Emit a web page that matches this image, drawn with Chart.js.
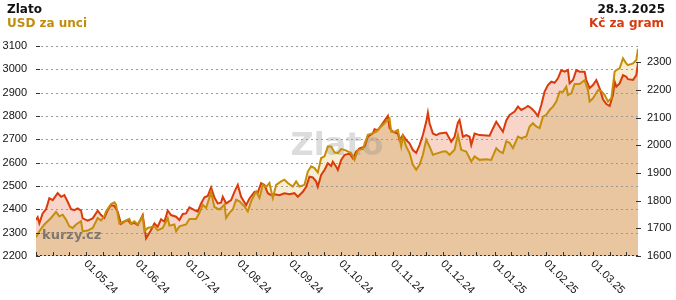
<!DOCTYPE html>
<html>
<head>
<meta charset="utf-8">
<script src="https://cdn.jsdelivr.net/npm/chart.js@4.4.1/dist/chart.umd.min.js"></script>
<style>
  html, body { margin: 0; padding: 0; background: #fff; }
  #wrap { position: relative; width: 676px; height: 300px; }
  .t { position: absolute; font: bold 12px "DejaVu Sans", sans-serif; line-height: 14px; white-space: nowrap; }
</style>
</head>
<body>
<div id="wrap">
  <canvas id="zlato" width="676" height="300"></canvas>
  <div class="t" style="left:7px;top:2px;color:#111">Zlato</div>
  <div class="t" style="left:7px;top:16px;color:#c08c0c">USD za unci</div>
  <div class="t" style="right:11px;top:2px;color:#111">28.3.2025</div>
  <div class="t" style="right:12px;top:16px;color:#d83a10">Kč za gram</div>
</div>
<script>
// den 0 = 1.4.2024
const startDate = Date.UTC(2024, 3, 1);
const endDay = 361;

const usdDays = [0, 2, 5, 7, 9, 12, 14, 16, 18, 20, 22, 24, 27, 28, 31, 34, 37, 39, 41, 42, 45, 47, 48, 50, 53, 56, 57, 59, 61, 64, 65, 67, 71, 73, 76, 79, 80, 83, 84, 86, 90, 92, 96, 98, 100, 102, 105, 107, 110, 113, 114, 116, 118, 120, 122, 125, 127, 129, 132, 134, 136, 138, 140, 142, 144, 147, 149, 151, 154, 156, 158, 161, 163, 165, 167, 169, 171, 173, 175, 177, 179, 181, 183, 185, 187, 189, 191, 193, 196, 199, 202, 204, 207, 209, 212, 213, 215, 217, 219, 220, 222, 224, 226, 228, 230, 232, 234, 236, 238, 241, 244, 246, 248, 251, 253, 255, 258, 261, 263, 266, 270, 273, 276, 278, 280, 282, 284, 286, 289, 291, 294, 296, 298, 300, 302, 304, 306, 308, 310, 312, 314, 316, 318, 319, 321, 323, 326, 329, 331, 332, 334, 337, 339, 341, 343, 345, 347, 348, 350, 352, 354, 355, 358, 360, 361];
const usdValues = [2280, 2306, 2335, 2349, 2363, 2389, 2370, 2377, 2356, 2327, 2320, 2335, 2349, 2306, 2309, 2320, 2363, 2353, 2370, 2391, 2423, 2430, 2420, 2339, 2349, 2359, 2339, 2349, 2335, 2370, 2306, 2320, 2327, 2310, 2320, 2363, 2330, 2335, 2306, 2327, 2335, 2359, 2359, 2385, 2420, 2406, 2473, 2410, 2399, 2420, 2363, 2385, 2399, 2441, 2434, 2413, 2391, 2434, 2477, 2449, 2505, 2496, 2513, 2449, 2505, 2520, 2527, 2513, 2498, 2520, 2498, 2505, 2562, 2584, 2577, 2558, 2620, 2627, 2669, 2669, 2644, 2641, 2658, 2655, 2648, 2641, 2612, 2655, 2658, 2719, 2726, 2733, 2755, 2769, 2790, 2733, 2733, 2740, 2669, 2712, 2669, 2641, 2591, 2570, 2591, 2634, 2698, 2669, 2634, 2641, 2648, 2648, 2634, 2655, 2719, 2655, 2648, 2605, 2627, 2612, 2615, 2612, 2662, 2648, 2641, 2691, 2685, 2662, 2712, 2705, 2712, 2755, 2769, 2755, 2748, 2797, 2805, 2826, 2840, 2862, 2904, 2904, 2926, 2890, 2897, 2937, 2937, 2954, 2911, 2862, 2876, 2911, 2907, 2890, 2862, 2876, 2990, 2997, 3004, 3047, 3025, 3018, 3025, 3040, 3088];

const czkDays = [0, 1, 2, 4, 6, 8, 10, 13, 15, 17, 19, 21, 23, 25, 27, 28, 31, 34, 37, 39, 41, 43, 45, 47, 49, 51, 53, 55, 57, 59, 61, 64, 66, 69, 71, 73, 75, 77, 79, 81, 84, 86, 88, 90, 92, 95, 97, 99, 101, 103, 105, 107, 109, 111, 112, 114, 117, 119, 121, 123, 126, 128, 131, 133, 135, 137, 139, 141, 143, 146, 149, 152, 155, 157, 160, 162, 164, 166, 168, 169, 171, 173, 175, 177, 178, 180, 181, 183, 185, 188, 190, 192, 194, 197, 199, 202, 203, 205, 208, 211, 212, 214, 217, 218, 220, 222, 224, 226, 228, 230, 232, 234, 235, 236, 238, 240, 242, 246, 249, 251, 253, 254, 256, 258, 260, 261, 263, 266, 272, 274, 276, 278, 280, 282, 284, 287, 289, 291, 293, 295, 297, 299, 301, 303, 305, 307, 309, 311, 313, 315, 317, 319, 320, 322, 324, 326, 329, 330, 332, 334, 336, 338, 340, 342, 344, 346, 347, 348, 350, 352, 354, 355, 358, 360, 361];
const czkValues = [1730, 1740, 1718, 1754, 1769, 1809, 1802, 1827, 1814, 1820, 1796, 1769, 1766, 1772, 1764, 1736, 1728, 1736, 1764, 1748, 1738, 1766, 1784, 1781, 1760, 1716, 1724, 1730, 1716, 1720, 1712, 1748, 1664, 1694, 1718, 1706, 1733, 1724, 1764, 1748, 1742, 1730, 1752, 1754, 1776, 1766, 1760, 1790, 1812, 1817, 1848, 1811, 1790, 1793, 1814, 1790, 1802, 1832, 1857, 1814, 1784, 1808, 1832, 1829, 1863, 1857, 1827, 1820, 1823, 1820, 1827, 1823, 1827, 1814, 1832, 1850, 1887, 1884, 1869, 1850, 1893, 1911, 1935, 1925, 1941, 1923, 1911, 1947, 1965, 1971, 1953, 1977, 1989, 1995, 2031, 2043, 2058, 2055, 2080, 2106, 2062, 2049, 2043, 2019, 2037, 2019, 2007, 1983, 1973, 2001, 2037, 2085, 2118, 2080, 2043, 2037, 2043, 2046, 2013, 2031, 2082, 2092, 2031, 2037, 2031, 2001, 2043, 2037, 2035, 2061, 2085, 2067, 2049, 2090, 2110, 2122, 2140, 2128, 2134, 2142, 2134, 2122, 2106, 2146, 2194, 2218, 2230, 2226, 2242, 2272, 2266, 2272, 2224, 2236, 2272, 2266, 2266, 2236, 2207, 2218, 2236, 2206, 2166, 2149, 2142, 2182, 2230, 2212, 2224, 2254, 2248, 2239, 2236, 2254, 2299];

const dateLabels = ['01.05.24', '01.06.24', '01.07.24', '01.08.24', '01.09.24', '01.10.24', '01.11.24', '01.12.24', '01.01.25', '01.02.25', '01.03.25'];
const usdTicks = [2200, 2300, 2400, 2500, 2600, 2700, 2800, 2900, 3000, 3100];
const czkTicks = [1600, 1700, 1800, 1900, 2000, 2100, 2200, 2300];
const czkMax = 2359;

function dayOf(label) {
  const [d, m, y] = label.split('.').map(Number);
  return (Date.UTC(2000 + y, m - 1, d) - startDate) / 864e5;
}

// male znacky na ose x: 1., 11. a 21. den v mesici
const minorDays = [];
for (let m = 3; m < 15; m++) {
  [1, 11, 21].forEach(d => {
    const day = (Date.UTC(2024, m, d) - startDate) / 864e5;
    if (day >= 0 && day <= endDay) minorDays.push(day);
  });
}

const tickFont = { family: '"Liberation Sans", Arial, sans-serif', size: 11 };

const decor = {
  id: 'decor',
  beforeDatasetsDraw(chart) {
    const { ctx, chartArea: a, scales } = chart;
    ctx.save();
    ctx.fillStyle = 'rgba(140,140,140,0.3)';
    ctx.font = 'bold 32px "DejaVu Sans"';
    ctx.textAlign = 'center';
    ctx.fillText('Zlato', (a.left + a.right) / 2, 155);
    ctx.fillStyle = 'rgba(90,90,90,0.75)';
    ctx.font = 'bold 13px "DejaVu Sans"';
    ctx.textAlign = 'left';
    ctx.fillText('kurzy.cz', a.left + 6, 239);

    ctx.strokeStyle = '#9a9a9a';
    ctx.lineWidth = 1;
    ctx.setLineDash([2, 3]);
    usdTicks.forEach(v => {
      if (v === usdTicks[0]) return;
      const py = Math.round(scales.yUsd.getPixelForValue(v)) + 0.5;
      ctx.beginPath();
      ctx.moveTo(a.left, py);
      ctx.lineTo(a.right, py);
      ctx.stroke();
    });
    ctx.restore();
  },
  afterDraw(chart) {
    const { ctx, chartArea: a, scales } = chart;
    const x = scales.x;
    ctx.save();
    ctx.strokeStyle = '#333';
    ctx.lineWidth = 1;
    ctx.setLineDash([2, 2]);
    ctx.beginPath();
    ctx.moveTo(a.left, a.bottom - 0.5);
    ctx.lineTo(a.right, a.bottom - 0.5);
    ctx.stroke();
    ctx.setLineDash([]);

    minorDays.forEach(d => {
      const px = Math.round(x.getPixelForValue(d)) + 0.5;
      ctx.beginPath();
      ctx.moveTo(px, a.bottom - 4);
      ctx.lineTo(px, a.bottom);
      ctx.stroke();
    });
    usdTicks.forEach(v => {
      const py = Math.round(scales.yUsd.getPixelForValue(v)) + 0.5;
      ctx.beginPath();
      ctx.moveTo(a.left, py);
      ctx.lineTo(a.left + 4, py);
      ctx.stroke();
    });
    czkTicks.forEach(v => {
      const py = Math.round(scales.yCzk.getPixelForValue(v)) + 0.5;
      ctx.beginPath();
      ctx.moveTo(a.right - 2, py);
      ctx.lineTo(a.right + 3, py);
      ctx.stroke();
    });

    ctx.fillStyle = '#111';
    ctx.font = '11px "Liberation Sans", Arial, sans-serif';
    ctx.textAlign = 'left';
    ctx.textBaseline = 'middle';
    dateLabels.forEach(lbl => {
      const px = x.getPixelForValue(dayOf(lbl));
      ctx.save();
      ctx.translate(px - 0.5, a.bottom + 6);
      ctx.rotate(Math.PI / 4);
      ctx.fillText(lbl, 0, 0);
      ctx.restore();
    });
    ctx.restore();
  }
};

new Chart(document.getElementById('zlato').getContext('2d'), {
  type: 'line',
  data: {
    datasets: [
      {
        label: 'USD za unci',
        data: usdDays.map((d, i) => ({ x: d, y: usdValues[i] })),
        yAxisID: 'yUsd',
        borderColor: '#c48e0a',
        borderWidth: 2,
        pointRadius: 0,
        tension: 0,
        fill: { target: 1, above: '#f6edd2', below: '#f8d5c9' },
      },
      {
        label: 'Kč za gram',
        data: czkDays.map((d, i) => ({ x: d, y: czkValues[i] })),
        yAxisID: 'yCzk',
        borderColor: '#d93b0b',
        borderWidth: 2,
        pointRadius: 0,
        tension: 0,
        fill: { target: 'start', above: '#e9c6a0', below: '#e9c6a0' },
      },
    ],
  },
  options: {
    responsive: false,
    animation: false,
    devicePixelRatio: 1,
    layout: { padding: { top: 46 } },
    plugins: {
      legend: { display: false },
      tooltip: { enabled: false },
      filler: { drawTime: 'beforeDatasetsDraw' },
    },
    scales: {
      x: {
        type: 'linear',
        min: 0,
        max: endDay,
        grid: { display: false, drawTicks: false },
        border: { display: false },
        ticks: { display: false },
        afterFit(s) { s.height = 44; },
      },
      yUsd: {
        position: 'left',
        min: usdTicks[0],
        max: usdTicks[usdTicks.length - 1],
        grid: { display: false, drawTicks: false },
        border: { display: false },
        ticks: { padding: 9, color: '#111', font: tickFont, callback: v => String(v) },
        afterBuildTicks(s) { s.ticks = usdTicks.map(v => ({ value: v })); },
        afterFit(s) { s.width = 36; },
      },
      yCzk: {
        position: 'right',
        min: czkTicks[0],
        max: czkMax,
        grid: { display: false, drawTicks: false },
        border: { display: false },
        ticks: { padding: 9, color: '#111', font: tickFont, callback: v => String(v) },
        afterBuildTicks(s) { s.ticks = czkTicks.map(v => ({ value: v })); },
        afterFit(s) { s.width = 38; },
      },
    },
  },
  plugins: [decor],
});
</script>
</body>
</html>
